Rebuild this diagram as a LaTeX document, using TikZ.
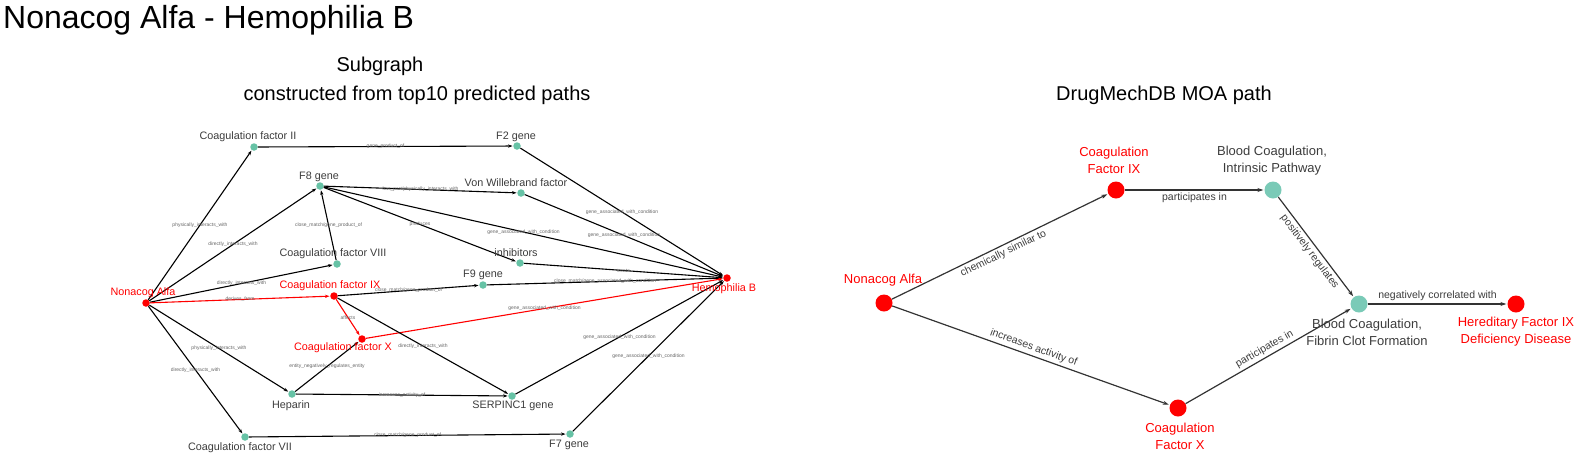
\documentclass[tikz,border=0pt]{standalone}
\usepackage{fontspec}
\setmainfont{Liberation Sans}
\usetikzlibrary{arrows.meta}
\definecolor{teal1}{RGB}{102,194,165}
\definecolor{teal2}{RGB}{122,202,183}
\definecolor{txt}{RGB}{60,60,60}
\begin{document}
\begin{tikzpicture}[x=1pt,y=-1pt,
  lbl/.style={font=\fontsize{10.8}{12}\selectfont, text=txt, inner sep=0},
  rlbl/.style={lbl, text=red},
  elbl/.style={font=\fontsize{5}{6}\selectfont, text=black!60, inner sep=0},
  tdot/.style={circle, fill=teal1, inner sep=0, minimum size=7.5},
  rdot/.style={circle, fill=red, inner sep=0, minimum size=7.5},
  ed/.style={-{Stealth[length=4.5pt,width=3.2pt]}, line width=1.1pt, draw=black, shorten >=0.5pt},
  redge/.style={ed, draw=red},
  bdot/.style={circle, fill=teal2, inner sep=0, minimum size=17},
  bred/.style={circle, fill=red, inner sep=0, minimum size=17},
  blbl/.style={font=\fontsize{13}{17}\selectfont, text=txt, align=center, inner sep=0},
  brlbl/.style={blbl, text=red},
  bed/.style={-{Stealth[length=6pt,width=4pt]}, line width=1.2pt, draw=black!80, shorten >=1pt},
  belbl/.style={font=\fontsize{10.5}{12}\selectfont, text=txt, sloped, inner sep=2.5pt},
  ttl/.style={font=\fontsize{20}{24}\selectfont, text=black, inner sep=0}
]
\useasboundingbox (0,0) rectangle (1579,459);

% titles
\node[font=\fontsize{32}{36}\selectfont, anchor=west, inner sep=0] (title) at (3,20) {Nonacog Alfa - Hemophilia B};
\node[ttl] (sub1) at (380,66) {Subgraph};
\node[ttl] (sub2) at (417,95) {constructed from top10 predicted paths};
\node[ttl] (sub3) at (1164,95) {DrugMechDB MOA path};

% ---------- left graph: dots ----------
\node[rdot] (non) at (146,303) {};
\node[tdot] (cII) at (254,147) {};
\node[tdot] (f8) at (320,186) {};
\node[tdot] (cVIII) at (337,264) {};
\node[rdot] (cIX) at (334,296) {};
\node[tdot] (f2) at (517,146) {};
\node[tdot] (vwf) at (521,193) {};
\node[tdot] (inh) at (520,263) {};
\node[tdot] (f9) at (483,285) {};
\node[rdot] (hemB) at (727,278) {};
\node[rdot] (cX) at (362,339) {};
\node[tdot] (hep) at (292,394) {};
\node[tdot] (cVII) at (245,437) {};
\node[tdot] (serp) at (512,396) {};
\node[tdot] (f7) at (570,434) {};

% ---------- left graph: edges ----------
\draw[ed] (non) -- (cII) node[elbl, midway] {physically\_interacts\_with};
\draw[ed] (non) -- (f8) node[elbl, midway] {directly\_interacts\_with};
\draw[ed] (non) -- (cVIII) node[elbl, midway] {directly\_interacts\_with};
\draw[redge] (non) -- (cIX) node[elbl, midway] {derives\_from};
\draw[ed] (non) -- (hep) node[elbl, midway] {physically\_interacts\_with};
\draw[ed] (non) -- (cVII) node[elbl, midway] {directly\_interacts\_with};
\draw[ed] (cVIII) -- (f8) node[elbl, midway] {close\_match/gene\_product\_of};
\draw[ed] (cII) -- (f2) node[elbl, midway] {gene\_product\_of};
\draw[ed] (f8) -- (vwf) node[elbl, midway] {has\_part/physically\_interacts\_with};
\draw[ed] (f8) -- (inh) node[elbl, midway] {produces};
\draw[ed] (f8) -- (hemB) node[elbl, midway] {gene\_associated\_with\_condition};
\draw[ed] (f2) -- (hemB) node[elbl, midway] {gene\_associated\_with\_condition};
\draw[ed] (vwf) -- (hemB) node[elbl, midway] {gene\_associated\_with\_condition};
\draw[ed] (inh) -- (hemB) node[elbl, midway] {treats};
\draw[ed] (f9) -- (hemB) node[elbl, midway] {close\_match/gene\_associated\_with\_condition};
\draw[ed] (cIX) -- (f9) node[elbl, midway] {close\_match/gene\_product\_of};
\draw[redge] (cIX) -- (cX) node[elbl, midway] {affects};
\draw[redge] (cX) -- (hemB) node[elbl, midway] {gene\_associated\_with\_condition};
\draw[ed] (cIX) -- (serp) node[elbl, midway] {directly\_interacts\_with};
\draw[ed] (hep) -- (cX) node[elbl, midway] {entity\_negatively\_regulates\_entity};
\draw[ed] (hep) -- (serp) node[elbl, midway] {increases\_activity\_of};
\draw[ed] (cVII) -- (f7) node[elbl, midway] {close\_match/gene\_product\_of};
\draw[ed] (serp) -- (hemB) node[elbl, midway] {gene\_associated\_with\_condition};
\draw[ed] (f7) -- (hemB) node[elbl, midway] {gene\_associated\_with\_condition};

% ---------- left graph: labels ----------
\node[lbl] (tII) at (248,137) {Coagulation factor II};
\node[lbl] (tF8) at (319,177) {F8 gene};
\node[lbl] (tVIII) at (333,254) {Coagulation factor VIII};
\node[rlbl] (tnon) at (143,293) {Nonacog Alfa};
\node[rlbl] (tIX) at (330,286) {Coagulation factor IX};
\node[lbl] (tF2) at (516,137) {F2 gene};
\node[lbl] (tVWF) at (516,183) {Von Willebrand factor};
\node[lbl] (tinh) at (516,253) {inhibitors};
\node[lbl] (tF9) at (483,275) {F9 gene};
\node[rlbl] (themB) at (724,289) {Hemophilia B};
\node[rlbl] (tX) at (343,348) {Coagulation factor X};
\node[lbl] (thep) at (291,406) {Heparin};
\node[lbl] (tVII) at (240,448) {Coagulation factor VII};
\node[lbl] (tserp) at (513,406) {SERPINC1 gene};
\node[lbl] (tF7) at (569,445) {F7 gene};

% ---------- right graph ----------
\node[bred] (rnon) at (884,303) {};
\node[bred] (rIX) at (1116,190) {};
\node[bred] (rX) at (1178,408) {};
\node[bdot] (rint) at (1273,190) {};
\node[bdot] (rfib) at (1359,304) {};
\node[bred] (rher) at (1516,304) {};

\draw[bed] (rnon) -- (rIX) node[belbl, midway, below] {chemically similar to};
\draw[bed] (rnon) -- (rX) node[belbl, midway, above] {increases activity of};
\draw[bed] (rIX) -- (rint) node[belbl, midway, below] {participates in};
\draw[bed] (rint) -- (rfib) node[belbl, midway, below] {positively regulates};
\draw[bed] (rX) -- (rfib) node[belbl, midway, above] {participates in};
\draw[bed] (rfib) -- (rher) node[belbl, midway, above] {negatively correlated with};

\node[brlbl] (trnon) at (883,280) {Nonacog Alfa};
\node[brlbl] (trIX) at (1114,160.5) {Coagulation\\Factor IX};
\node[brlbl] (trX) at (1180,436) {Coagulation\\Factor X};
\node[blbl] (trint) at (1272,160.5) {Blood Coagulation,\\Intrinsic Pathway};
\node[blbl] (trfib) at (1367,332) {Blood Coagulation,\\Fibrin Clot Formation};
\node[brlbl] (trher) at (1516,332) {Hereditary Factor IX\\Deficiency Disease};
\end{tikzpicture}
\end{document}
